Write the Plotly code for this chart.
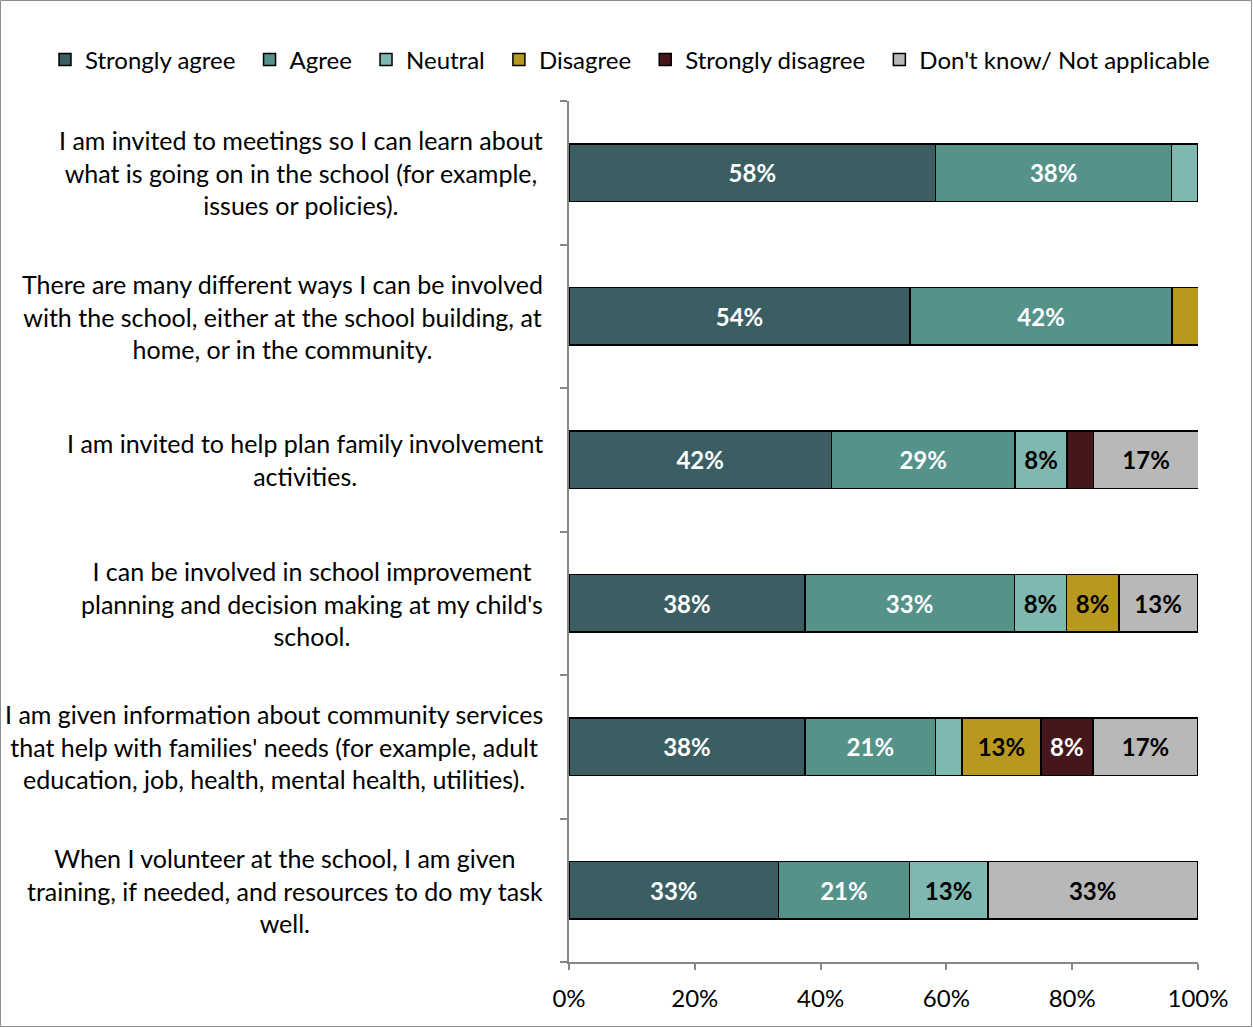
import plotly.graph_objects as go

# Survey statements (top to bottom)
statements = [
    "I am invited to meetings so I can learn about<br>what is going on in the school (for example,<br>issues or policies).",
    "There are many different ways I can be involved<br>with the school, either at the school building, at<br>home, or in the community.",
    "I am invited to help plan family involvement<br>activities.",
    "I can be involved in school improvement<br>planning and decision making at my child's<br>school.",
    "I am given information about community services<br>that help with families' needs (for example, adult<br>education, job, health, mental health, utilities).",
    "When I volunteer at the school, I am given<br>training, if needed, and resources to do my task<br>well.",
]

responses = ["Strongly agree", "Agree", "Neutral", "Disagree",
             "Strongly disagree", "Don't know/ Not applicable"]

# Share of respondents (%) per statement, one list per response
strongly_agree    = [58.3, 54.2, 41.7, 37.5, 37.5, 33.3]
agree             = [37.5, 41.7, 29.2, 33.3, 20.8, 20.8]
neutral           = [4.2, 0.0, 8.3, 8.3, 4.2, 12.5]
disagree          = [0.0, 4.2, 0.0, 8.3, 12.5, 0.0]
strongly_disagree = [0.0, 0.0, 4.2, 0.0, 8.3, 0.0]
dont_know         = [0.0, 0.0, 16.7, 12.5, 16.7, 33.3]

series = [strongly_agree, agree, neutral, disagree, strongly_disagree, dont_know]
colors = ["#3b5e63", "#54928a", "#7fb8b1", "#b8991f", "#45161a", "#b8b8b8"]
label_colors = ["white", "white", "black", "black", "white", "black"]

FONT = "Lato"
FS = 24
positions = list(range(len(statements)))

fig = go.Figure()
for k, (name, vals, col, lcol) in enumerate(zip(responses, series, colors, label_colors)):
    labels = [f"{int(v + 0.5)}%" if v >= 6 else "" for v in vals]
    # a little extra room after each legend entry except the last
    legend_name = name + ("\u00a0\u2009" if k < len(responses) - 1 else "")
    fig.add_trace(go.Bar(
        name=legend_name,
        y=positions,
        x=vals,
        orientation="h",
        width=0.4,
        marker=dict(color=col, line=dict(color="#000000", width=1.5)),
        text=labels,
        textposition="inside",
        insidetextanchor="middle",
        textangle=0,
        constraintext="none",
        textfont=dict(family=FONT, size=FS, color=lcol, weight="bold"),
        hoverinfo="skip",
    ))

# Statement labels to the left of the bars
for i, s in enumerate(statements):
    fig.add_annotation(
        x=0, xref="paper", y=i, yref="y",
        text=s, showarrow=False,
        xanchor="right", yanchor="middle", align="center",
        xshift=-24,
        font=dict(family=FONT, size=25, color="#000000"),
    )

W, H = 1253, 1028
ml, mr, mt, mb = 569, 55, 101, 66
pw, ph = W - ml - mr, H - mt - mb

# Thin frame around the whole chart
fig.add_shape(
    type="rect", xref="paper", yref="paper",
    x0=-(ml - 0.5) / pw, x1=1 + (mr - 1.5) / pw,
    y0=-(mb - 1.5) / ph, y1=1 + (mt - 0.5) / ph,
    line=dict(color="#8c8c8c", width=1), fillcolor="rgba(0,0,0,0)",
)

fig.update_layout(
    width=W, height=H,
    margin=dict(l=ml, r=mr, t=mt, b=mb, pad=0, autoexpand=False),
    barmode="stack",
    plot_bgcolor="white", paper_bgcolor="white",
    font=dict(family=FONT, size=FS, color="#000000"),
    showlegend=True,
    legend=dict(
        orientation="h",
        xref="paper", yref="paper",
        x=(45 - ml) / pw, xanchor="left",
        y=1 + (mt - 60) / ph, yanchor="middle",
        font=dict(family=FONT, size=FS, color="#000000"),
        traceorder="normal",
        itemwidth=30,
    ),
    xaxis=dict(
        range=[0, 100],
        tickvals=[0, 20, 40, 60, 80, 100],
        ticktext=["0%", "20%", "40%", "60%", "80%", "100%"],
        ticks="outside", ticklen=6, tickwidth=2, tickcolor="#868686",
        showline=True, linecolor="#868686", linewidth=2,
        showgrid=False, zeroline=False,
        tickfont=dict(family=FONT, size=FS, color="#000000"),
        ticklabelstandoff=8,
    ),
    yaxis=dict(
        range=[len(statements) - 0.5, -0.5],
        tickvals=[i - 0.5 for i in range(len(statements) + 1)],
        showticklabels=False,
        ticks="outside", ticklen=7, tickwidth=2, tickcolor="#868686",
        showline=True, linecolor="#868686", linewidth=2,
        showgrid=False, zeroline=False,
    ),
)

fig.write_html("out.html")
